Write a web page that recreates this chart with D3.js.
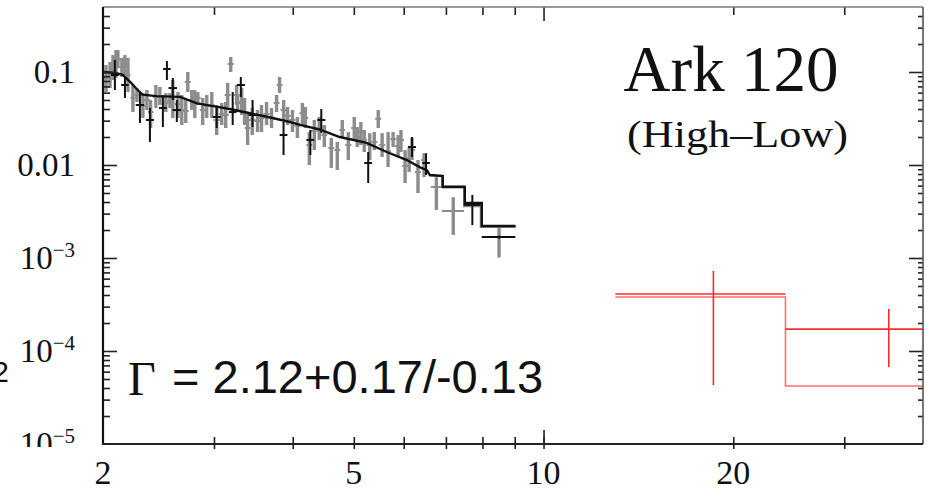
<!DOCTYPE html>
<html><head><meta charset="utf-8">
<script src="https://cdn.jsdelivr.net/npm/d3@7"></script>
<style>body{margin:0;background:#fff;}svg{display:block;}</style>
</head><body>
<svg id="chart" width="927" height="498"></svg>
<script>
// ---------- data ----------
const xDomain = [2, 40];
const yDomain = [1e-5, 0.5];

// grey spectrum (energy keV, flux, lower, upper, half-bin keV)
const grayE  = [2.022,2.052,2.074,2.097,2.112,2.143,2.167,2.191,2.231,2.264,2.314,2.348,2.38,2.426,2.462,2.516,2.554,2.581,2.63,2.667,2.706,2.726,2.766,2.797,2.828,2.879,2.922,2.976,3.030,3.086,3.131,3.154,3.189,3.259,3.271,3.32,3.355,3.392,3.45,3.517,3.569,3.635,3.702,3.771,3.812,3.87,3.925,3.996,4.069,4.144,4.189,4.250,4.328,4.407,4.489,4.605,4.707,4.794,4.900,5.008,5.063,5.13,5.194,5.30,5.388,5.467,5.545,5.667,5.772,5.878,5.94,6.030,6.12,6.185,6.321,6.463,6.76,7.19,8.5];
const grayF  = [0.0862,0.0928,0.110,0.1285,0.138,0.113,0.122,0.0928,0.0526,0.0566,0.0431,0.05,0.0371,0.0539,0.0539,0.0464,0.0488,0.0512,0.0453,0.039,0.038,0.078,0.05,0.0453,0.0526,0.039,0.0431,0.0442,0.0305,0.0354,0.0345,0.0566,0.122,0.0566,0.0464,0.0476,0.0371,0.025,0.0305,0.0298,0.032,0.0354,0.032,0.0464,0.0725,0.039,0.0337,0.0305,0.0262,0.0362,0.032,0.0164,0.0232,0.025,0.021,0.0152,0.0145,0.0238,0.0164,0.025,0.020,0.0226,0.0186,0.0164,0.0177,0.0313,0.0164,0.0141,0.019,0.016,0.0186,0.00976,0.0118,0.0145,0.0084,0.0113,0.0058,0.0032,0.00168];
const grayLo = [0.0609,0.0672,0.082,0.0862,0.110,0.0883,0.0928,0.0609,0.0371,0.0476,0.032,0.039,0.025,0.041,0.0442,0.0371,0.041,0.032,0.032,0.0269,0.0283,0.0609,0.039,0.032,0.0442,0.0269,0.032,0.032,0.021,0.0269,0.025,0.0421,0.1,0.0442,0.0371,0.0345,0.0269,0.0164,0.021,0.0226,0.0226,0.0269,0.025,0.0371,0.0594,0.0305,0.0269,0.0226,0.0195,0.0269,0.025,0.010,0.0145,0.0186,0.0156,0.0093,0.00883,0.020,0.0113,0.0186,0.0156,0.0164,0.0138,0.0113,0.0145,0.025,0.0122,0.0095,0.0156,0.0122,0.0138,0.0064,0.0084,0.0113,0.005,0.0074,0.00328,0.00177,0.00101];
const grayHi = [0.119,0.1285,0.152,0.172,0.172,0.142,0.152,0.142,0.0725,0.0673,0.0594,0.064,0.05,0.0725,0.069,0.0594,0.0594,0.082,0.0609,0.0566,0.05,0.1,0.064,0.064,0.0609,0.0526,0.0566,0.0609,0.0442,0.0464,0.0476,0.0762,0.145,0.0725,0.0566,0.0672,0.0526,0.0371,0.041,0.039,0.0442,0.0476,0.041,0.0566,0.0883,0.05,0.0421,0.039,0.0328,0.0464,0.0421,0.0226,0.0305,0.0328,0.0269,0.0195,0.0177,0.0305,0.0226,0.0328,0.0256,0.029,0.0238,0.022,0.0226,0.039,0.022,0.0226,0.0226,0.021,0.0238,0.0145,0.0156,0.0195,0.0113,0.0134,0.0074,0.0045,0.00226];
const grayDE = [0.02,0.02,0.02,0.02,0.02,0.02,0.02,0.02,0.02,0.02,0.025,0.025,0.025,0.025,0.025,0.025,0.025,0.025,0.03,0.03,0.03,0.03,0.03,0.03,0.03,0.03,0.03,0.03,0.035,0.035,0.035,0.035,0.035,0.035,0.035,0.035,0.035,0.035,0.04,0.04,0.04,0.04,0.04,0.04,0.04,0.045,0.045,0.045,0.045,0.045,0.045,0.045,0.05,0.05,0.05,0.05,0.05,0.05,0.055,0.055,0.055,0.055,0.055,0.06,0.06,0.06,0.06,0.06,0.06,0.065,0.065,0.065,0.065,0.065,0.07,0.07,0.135,0.29,0.52];

// black spectrum
const blackE  = [2.089,2.167,2.289,2.374,2.489,2.526,2.581,2.619,3.030,3.212,3.309,3.454,3.868,4.266,4.440,5.270,6.185,6.510,7.71,8.5];
const blackF  = [0.0928,0.0725,0.0442,0.0305,0.041,0.1077,0.0672,0.039,0.0328,0.0371,0.0725,0.0345,0.021,0.0186,0.0305,0.0105,0.0156,0.0105,0.00372,0.00168];
const blackLo = [0.064,0.0526,0.0283,0.0177,0.0256,0.082,0.05,0.029,0.025,0.0269,0.0539,0.0256,0.0128,0.0128,0.0221,0.0064,0.0122,0.0078,0.00226,0.00162];
const blackHi = [0.135,0.0883,0.0609,0.041,0.0566,0.1315,0.0862,0.05,0.041,0.0609,0.0883,0.05,0.029,0.0238,0.040,0.0138,0.020,0.0134,0.00476,0.00174];
const blackDE = [0.03,0.03,0.035,0.035,0.035,0.035,0.04,0.04,0.045,0.045,0.05,0.05,0.055,0.06,0.065,0.075,0.09,0.09,0.24,0.52];

// model curves
const modelE = [2.0,2.09,2.15,2.21,2.26,2.31,2.43,2.65,2.82,2.99,3.18,3.42,3.64,3.96,4.11,4.42,4.75,5.24,5.64,6.07,6.36,6.53,6.60,6.92,6.92,7.50,7.50,7.98,7.98,9.03];
const modelF = [0.1,0.098,0.093,0.078,0.066,0.057,0.055,0.054,0.046,0.043,0.040,0.036,0.033,0.029,0.027,0.024,0.020,0.0173,0.0138,0.0113,0.0095,0.0088,0.0078,0.0076,0.0058,0.0058,0.0039,0.0039,0.00221,0.00221];
const model2E = [6.60,6.90,6.90,7.48,7.48,7.95,7.95,9.03];
const model2F = [0.0077,0.0077,0.0059,0.0059,0.0036,0.0036,0.00215,0.00215];

// high-energy (red)
const redModelE = [13.0,24.2,24.2,50];
const redModelF = [3.81e-4,3.81e-4,4.2e-5,4.2e-5];
const redE   = [18.6,35.3];
const redELo = [13.0,24.2];
const redEHi = [24.2,50];
const redF   = [4.1e-4,1.72e-4];
const redLo  = [4.3e-5,6.7e-5];
const redHi  = [7.25e-4,2.83e-4];

// tick labels
const xLabelVals = [2,5,10,20];
const yLabelVals = [0.1,0.01,1e-3,1e-4,1e-5];
const yLabelMain = ["0.1","0.01","10","10","10"];
const yLabelSup  = ["","","\u22123","\u22124","\u22125"];

// ---------- drawing ----------
const X0 = 103, X1 = 923, Y0 = 7, Y1 = 444;
const serif = "'Liberation Serif','Times New Roman',serif";
const sans = "'Liberation Sans',Arial,sans-serif";
const svg = d3.select("#chart");
const x = d3.scaleLog().domain(xDomain).range([X0, X1]);
const y = d3.scaleLog().domain(yDomain).range([Y1, Y0]);

const defs = svg.append("defs");
defs.append("clipPath").attr("id","plotclip").append("rect")
  .attr("x",X0).attr("y",Y0).attr("width",X1-X0).attr("height",Y1-Y0);
defs.append("clipPath").attr("id","labclip").append("rect")
  .attr("x",0).attr("y",0).attr("width",X0).attr("height",447);

const plot = svg.append("g").attr("clip-path","url(#plotclip)");

function errBars(g, cls, E, F, lo, hi, eLo, eHi, color, wv, wh) {
  const idx = d3.range(E.length);
  g.selectAll("line.v"+cls).data(idx).join("line").attr("class","v"+cls)
    .attr("x1",i=>x(E[i])).attr("x2",i=>x(E[i]))
    .attr("y1",i=>y(lo[i])).attr("y2",i=>y(hi[i]))
    .attr("stroke",color).attr("stroke-width",wv);
  g.selectAll("line.h"+cls).data(idx).join("line").attr("class","h"+cls)
    .attr("x1",i=>x(eLo[i])).attr("x2",i=>x(eHi[i]))
    .attr("y1",i=>y(F[i])).attr("y2",i=>y(F[i]))
    .attr("stroke",color).attr("stroke-width",wh);
}

const line = d3.line().x(d=>x(d[0])).y(d=>y(d[1]));

// grey data
errBars(plot, "g", grayE, grayF, grayLo, grayHi,
  grayE.map((e,i)=>e-grayDE[i]), grayE.map((e,i)=>e+grayDE[i]), "#8c8c8c", 3.4, 2);
// second (grey) model
plot.append("path").attr("d", line(model2E.map((e,i)=>[e,model2F[i]])))
  .attr("fill","none").attr("stroke","#8a8a8a").attr("stroke-width",2);
// black model
plot.append("path").attr("d", line(modelE.map((e,i)=>[e,modelF[i]])))
  .attr("fill","none").attr("stroke","#111").attr("stroke-width",2.4);
// black data
errBars(plot, "b", blackE, blackF, blackLo, blackHi,
  blackE.map((e,i)=>e-blackDE[i]), blackE.map((e,i)=>e+blackDE[i]), "#111", 2, 2);

// red model and data
plot.append("path").attr("d", line(redModelE.map((e,i)=>[e,redModelF[i]])))
  .attr("fill","none").attr("stroke","#ff7070").attr("stroke-width",1.6);
errBars(plot, "r", redE, redF, redLo, redHi, redELo, redEHi, "#ff2a2a", 1.6, 1.6);

// ---------- axes ----------
const yt = y.ticks().filter(t => t > yDomain[0]*1.01 && t < 0.45);
const isMajor = t => Math.abs(Math.log10(t) - Math.round(Math.log10(t))) < 1e-6;
const yMajor = yt.filter(isMajor), yMinor = yt.filter(t=>!isMajor(t));
const xt = x.ticks().filter(t => t > 2.01 && t < 39.9);
const xMajor = xt.filter(isMajor);

function axisG(gen, tx, ty){
  const g = svg.append("g").attr("transform",`translate(${tx},${ty})`).call(gen);
  g.select(".domain").remove();
  g.selectAll("text").remove();
  g.selectAll("line").attr("stroke","#222").attr("stroke-width",1.6);
  return g;
}
axisG(d3.axisLeft(y).tickValues(yMajor).tickSize(-14), X0, 0);
axisG(d3.axisLeft(y).tickValues(yMinor).tickSize(-7), X0, 0);
axisG(d3.axisRight(y).tickValues(yMajor).tickSize(-14), X1, 0);
axisG(d3.axisRight(y).tickValues(yMinor).tickSize(-5), X1, 0);
axisG(d3.axisTop(x).tickValues(xMajor).tickSize(-14), 0, Y0);
axisG(d3.axisTop(x).tickValues(xt.filter(t=>!isMajor(t))).tickSize(-8), 0, Y0);
axisG(d3.axisBottom(x).tickValues(xMajor).tickSize(-14), 0, Y1);
axisG(d3.axisBottom(x).tickValues(xt).tickSize(-7), 0, Y1);
axisG(d3.axisBottom(x).tickValues(xt).tickSize(5), 0, Y1);

// frame
svg.append("line").attr("x1",X0).attr("x2",X1).attr("y1",Y0).attr("y2",Y0).attr("stroke","#777").attr("stroke-width",1.6);
svg.append("line").attr("x1",X1).attr("x2",X1).attr("y1",Y0).attr("y2",Y1).attr("stroke","#555").attr("stroke-width",1.6);
svg.append("line").attr("x1",X0).attr("x2",X0).attr("y1",Y0).attr("y2",Y1+1).attr("stroke","#111").attr("stroke-width",2.2);
svg.append("line").attr("x1",X0-1).attr("x2",X1).attr("y1",Y1).attr("y2",Y1).attr("stroke","#222").attr("stroke-width",2.2);

// y labels
const ylab = svg.append("g").attr("clip-path","url(#labclip)");
yLabelVals.forEach((v,i)=>{
  const t = ylab.append("text").attr("x",75).attr("y",y(v)+11)
    .attr("text-anchor","end").attr("font-family",serif).attr("font-size",33).attr("fill","#111");
  t.append("tspan").text(yLabelMain[i]);
  if (yLabelSup[i]) t.append("tspan").attr("dy",-12).attr("font-size",21).text(yLabelSup[i]);
});
// x labels
svg.append("g").selectAll("text").data(xLabelVals).join("text")
  .attr("x",d=>x(d)).attr("y",484).attr("text-anchor","middle")
  .attr("font-family",serif).attr("font-size",34).attr("fill","#111").text(d=>d);

// clipped axis-title remnant at the left edge
svg.append("text").attr("x",9).attr("y",382).attr("text-anchor","end")
  .attr("font-family",sans).attr("font-size",30).attr("fill","#111").text("2");

// annotations
svg.append("text").attr("x",731).attr("y",91).attr("text-anchor","middle")
  .attr("font-family",serif).attr("font-size",65).attr("fill","#111").text("Ark 120");
svg.append("text").attr("x",627).attr("y",147)
  .attr("font-family",serif).attr("font-size",37).attr("fill","#111")
  .attr("textLength",221).attr("lengthAdjust","spacingAndGlyphs").text("(High\u2013Low)");
svg.append("text").attr("x",128).attr("y",395)
  .attr("font-family",serif).attr("font-size",48).attr("fill","#111").text("\u0393");
svg.append("text").attr("x",172).attr("y",393)
  .attr("font-family",sans).attr("font-size",47).attr("fill","#111").text("= 2.12+0.17/-0.13");
</script>
</body></html>
